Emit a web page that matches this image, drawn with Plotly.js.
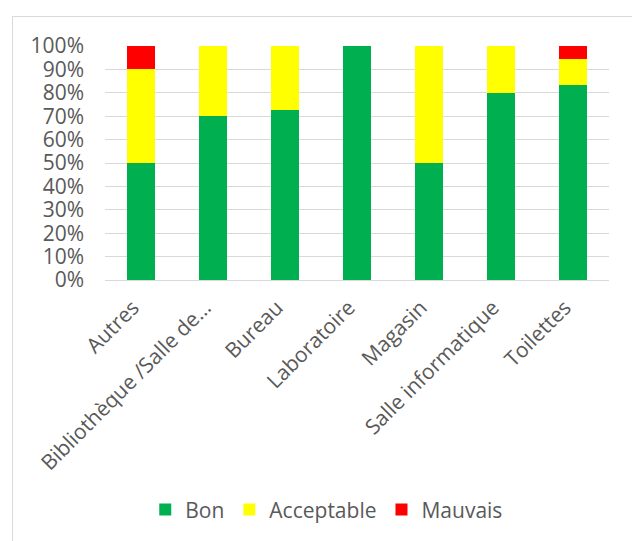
<!DOCTYPE html>
<html>
<head>
<meta charset="utf-8">
<script src="https://cdn.plot.ly/plotly-3.0.1.min.js"></script>
<style>
  html, body { margin: 0; padding: 0; background: #fff; overflow: hidden; }
  #wrap { position: relative; width: 632px; height: 541px; }
  #chart { position: absolute; left: 0; top: 0; width: 632px; height: 541px; }
  #frame { position: absolute; left: 12px; top: 16px; width: 640px; height: 560px;
           border: 1px solid #d9d9d9; box-sizing: border-box; pointer-events: none; }
</style>
</head>
<body>
<div id="wrap">
  <div id="chart"></div>
  <div id="frame"></div>
</div>
<script>
const categories = ["Autres", "Bibliothèque /Salle de…", "Bureau", "Laboratoire", "Magasin", "Salle informatique", "Toilettes"];
const bon        = [0.50, 0.70, 0.727, 1.00, 0.50, 0.80, 0.833];
const acceptable = [0.40, 0.30, 0.273, 0.00, 0.50, 0.20, 0.111];
const mauvais    = [0.10, 0.00, 0.000, 0.00, 0.00, 0.00, 0.056];
const yTicks     = [0, 0.1, 0.2, 0.3, 0.4, 0.5, 0.6, 0.7, 0.8, 0.9, 1.0];
const yTickText  = ["0%", "10%", "20%", "30%", "40%", "50%", "60%", "70%", "80%", "90%", "100%"];

const font = { family: "Open Sans, DejaVu Sans, sans-serif", size: 21, color: "#595959" };

const traces = [
  { type: "bar", name: "Bon", x: categories, y: bon, marker: { color: "#00B050" } },
  { type: "bar", name: "Acceptable", x: categories, y: acceptable, marker: { color: "#FFFF00" } },
  { type: "bar", name: "Mauvais", x: categories, y: mauvais, marker: { color: "#FF0000" } }
];

const layout = {
  width: 632, height: 541,
  margin: { l: 105, r: 23, t: 46, b: 260 },
  barmode: "stack",
  bargap: 0.6,
  paper_bgcolor: "#fff",
  plot_bgcolor: "#fff",
  font: font,
  showlegend: true,
  hovermode: false,
  xaxis: {
    tickangle: -45,
    showgrid: false,
    showline: true,
    linecolor: "#d9d9d9",
    linewidth: 1,
    ticks: "",
    ticklabelstandoff: 6,
    ticklabelshift: -8,
    tickfont: font
  },
  yaxis: {
    range: [0, 1],
    tickvals: yTicks,
    ticktext: yTickText,
    showgrid: true,
    gridcolor: "#d9d9d9",
    gridwidth: 1,
    zeroline: false,
    showline: false,
    ticks: "",
    ticklabelstandoff: 20,
    tickfont: font
  },
  legend: {
    orientation: "h",
    x: 0.44, xanchor: "center",
    y: -0.974, yanchor: "middle",
    font: font,
    itemwidth: 30,
    traceorder: "normal"
  }
};

Plotly.newPlot("chart", traces, layout, { displayModeBar: false, staticPlot: true });
</script>
</body>
</html>
